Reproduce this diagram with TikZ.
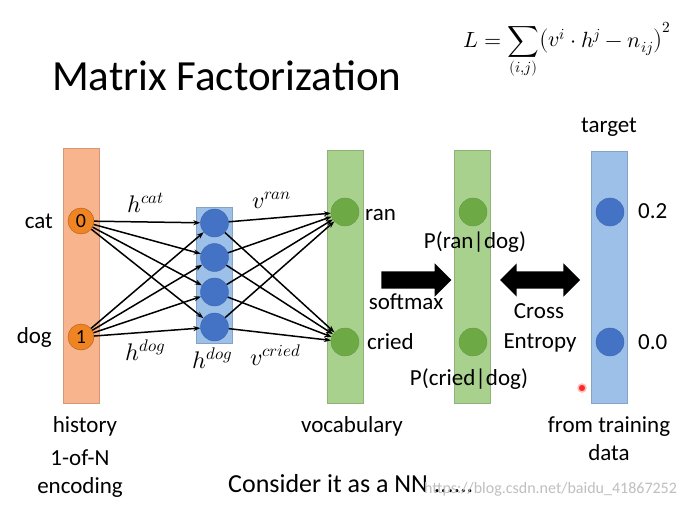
\documentclass[tikz,border=0pt]{standalone}
\usepackage{fontspec}
\usepackage{unicode-math}
\setmainfont{Carlito}
\setmathfont{Latin Modern Math}
\usetikzlibrary{arrows.meta,shapes.arrows}
\definecolor{barorange}{HTML}{F8B48C}
\definecolor{dotorange}{HTML}{F08322}
\definecolor{barblue}{HTML}{9DC0E8}
\definecolor{dotblue}{HTML}{4472C4}
\definecolor{bargreen}{HTML}{A9D18E}
\definecolor{dotgreen}{HTML}{6DAA45}
\tikzset{
  bar/.style={draw=#1!85!black,fill=#1,minimum width=36pt,inner sep=0pt},
  unit/.style={circle,fill=#1,draw=#1!90!black,minimum size=28pt,inner sep=0pt},
  lbl/.style={inner sep=0pt,font=\fontsize{23}{27}\selectfont},
  mlbl/.style={inner sep=0pt,font=\fontsize{24}{28}\selectfont},
  link/.style={-{Stealth[length=7pt,width=5pt]},line width=1.5pt},
  fat/.style={fill=black,inner xsep=0pt,inner ysep=8.5pt}
}
\begin{document}
\begin{tikzpicture}[x=1pt,y=-1pt]
            \useasboundingbox[fill=white] (0,0) rectangle (697,506);

            \node[inner sep=0pt,anchor=base west,font=\fontsize{43}{49}\selectfont] (title) at (52,90) {Matrix Factorization};
            \node[inner sep=0pt,anchor=base west,font=\fontsize{22}{26}\selectfont] (loss) at (463,47) {$\displaystyle L=\sum_{(i,j)}\bigl(v^i\cdot h^j-n_{ij}\bigr)^2$};

            \node[bar=barorange,minimum height=255pt] (histbar) at (81.5,275.5) {};
            \node[bar=barblue,minimum height=136pt] (hidbar) at (214.5,275) {};
            \node[bar=bargreen,minimum height=253pt] (vocabbar) at (345.5,276.5) {};
            \node[bar=bargreen,minimum height=253pt] (probbar) at (472.5,276.5) {};
            \node[bar=barblue,minimum height=252pt] (targbar) at (609.5,277) {};

            \node[unit=dotorange,draw=dotorange!70!black,minimum size=26pt,font=\fontsize{20}{24}\selectfont] (cat) at (81,221) {0};
            \node[unit=dotorange,draw=dotorange!70!black,minimum size=26pt,font=\fontsize{20}{24}\selectfont] (dog) at (81,337) {1};

            \node[unit=dotblue] (h1) at (214.5,223) {};
            \node[unit=dotblue] (h2) at (214.5,257.5) {};
            \node[unit=dotblue] (h3) at (214.5,292) {};
            \node[unit=dotblue] (h4) at (214.5,327) {};

            \node[unit=dotgreen] (ran) at (345,212) {};
            \node[unit=dotgreen] (cried) at (345,342) {};
            \node[unit=dotgreen] (pran) at (473,212) {};
            \node[unit=dotgreen] (pcried) at (473,342) {};
            \node[unit=dotblue] (tran) at (610,212) {};
            \node[unit=dotblue] (tcried) at (610,342) {};

            \draw[link] (cat) -- (h1);
            \draw[link] (cat) -- (h2);
            \draw[link] (cat) -- (h3);
            \draw[link] (cat) -- (h4);
            \draw[link] (dog) -- (h1);
            \draw[link] (dog) -- (h2);
            \draw[link] (dog) -- (h3);
            \draw[link] (dog) -- (h4);
            \draw[link] (h1) -- (ran);
            \draw[link] (h2) -- (ran);
            \draw[link] (h3) -- (ran);
            \draw[link] (h4) -- (ran);
            \draw[link] (h1) -- (cried);
            \draw[link] (h2) -- (cried);
            \draw[link] (h3) -- (cried);
            \draw[link] (h4) -- (cried);

            \node[fat,single arrow,minimum height=70pt,single arrow head extend=8pt] (softarrow) at (412,280) {};
            \node[fat,double arrow,minimum height=80pt,double arrow head extend=8pt] (crossarrow) at (540,280) {};

            \node[lbl,anchor=base east] (catlbl) at (53,228) {cat};
            \node[lbl,anchor=base east] (doglbl) at (52,343) {dog};
            \node[lbl,anchor=base west] (ranlbl) at (365,220) {ran};
            \node[lbl,anchor=base west] (criedlbl) at (367,349) {cried};
            \node[lbl,anchor=base] (pranlbl) at (475,248) {P(ran|dog)};
            \node[lbl,anchor=base] (softlbl) at (406,309) {softmax};
            \node[lbl,anchor=base] (crosslbl) at (539,318) {Cross};
            \node[lbl,anchor=base] (entlbl) at (540,348) {Entropy};
            \node[lbl,anchor=base] (pcriedlbl) at (469,385) {P(cried|dog)};
            \node[lbl,anchor=base west] (twolbl) at (638,218) {0.2};
            \node[lbl,anchor=base west] (zerolbl) at (638,349) {0.0};
            \node[lbl,anchor=base] (targetlbl) at (609,132) {target};

            \node[lbl,anchor=base] (histlbl) at (85,432) {history};
            \node[lbl,anchor=base] (onelbl) at (80,465) {1-of-N};
            \node[lbl,anchor=base] (enclbl) at (80,493) {encoding};
            \node[lbl,anchor=base] (vocablbl) at (352,432) {vocabulary};
            \node[lbl,anchor=base] (fromlbl) at (609,432) {from training};
            \node[lbl,anchor=base] (datalbl) at (609,460) {data};
            \node[inner sep=0pt,anchor=base west,font=\fontsize{26}{31}\selectfont] (nnlbl) at (228,492) {Consider it as a NN ......};
            \node[inner sep=0pt,anchor=base west,text=black!25,font=\fontsize{16}{19}\selectfont] (mark) at (424,493) {https://blog.csdn.net/baidu\_41867252};

            \node[mlbl,anchor=base west] (hcat) at (127,212) {$h^{cat}$};
            \node[mlbl,anchor=base west] (hdogin) at (125,360) {$h^{dog}$};
            \node[mlbl,anchor=base west] (hdogmid) at (192,368) {$h^{dog}$};
            \node[mlbl,anchor=base west] (vran) at (252,208) {$v^{ran}$};
            \node[mlbl,anchor=base west] (vcried) at (250,365) {$v^{cried}$};

            \node[circle,fill=red!85,draw=red!25,line width=1.5pt,minimum size=8pt,inner sep=0pt] (pointer) at (582,388) {};
        \end{tikzpicture}
\end{document}
